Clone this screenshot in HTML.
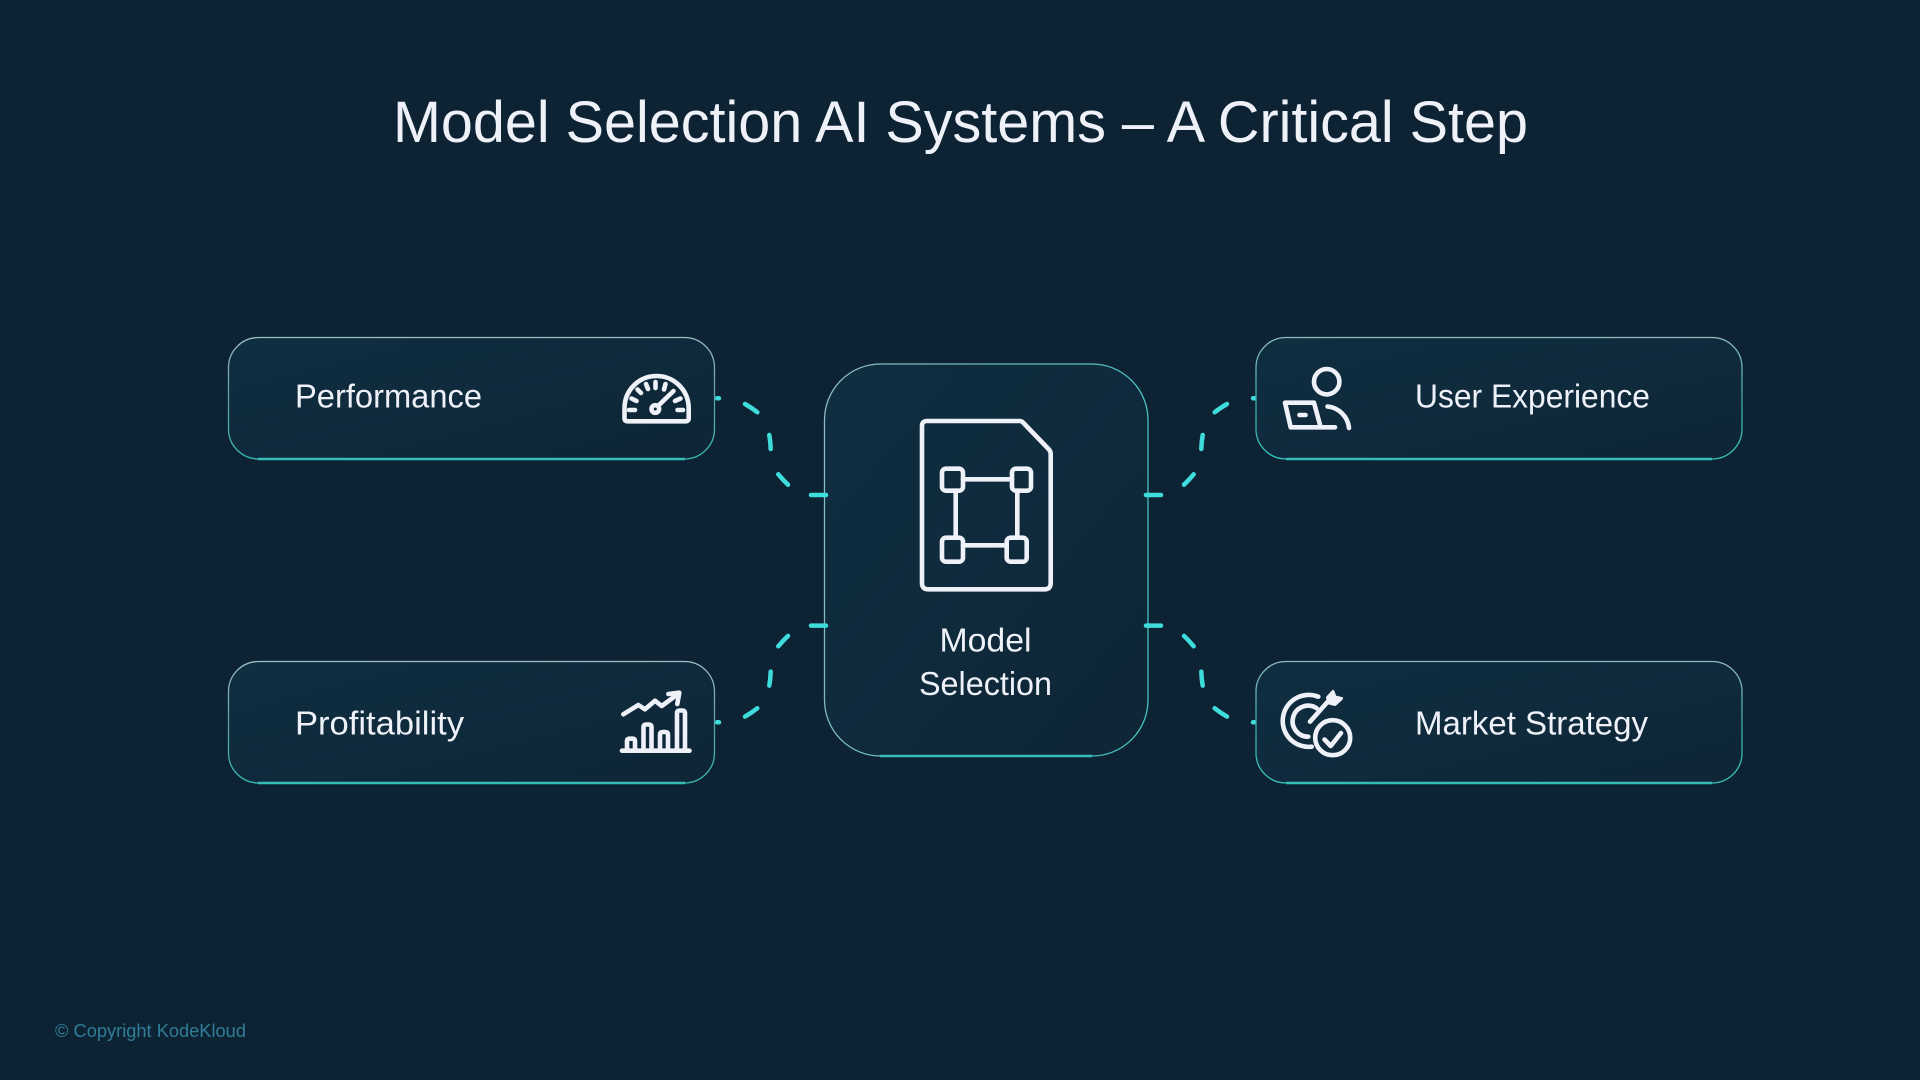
<!DOCTYPE html>
<html lang="en">
<head>
<meta charset="utf-8">
<title>Model Selection AI Systems – A Critical Step</title>
<style>
html,body{margin:0;padding:0;background:#0d2333;width:1920px;height:1080px;overflow:hidden}
svg{display:block}
text{font-family:"Liberation Sans",sans-serif;fill:#eff1f9}
.i{fill:none;stroke:#eff1f9;stroke-width:4.6;stroke-linecap:round;stroke-linejoin:round}
.d{fill:none;stroke:#3fdcdc;stroke-width:4.5;stroke-linecap:round}
.b{fill:none;stroke:#35bdb5;stroke-width:2.4}
</style>
</head>
<body>
<svg width="1920" height="1080" viewBox="0 0 1920 1080" xmlns="http://www.w3.org/2000/svg">
<defs>
<linearGradient id="f" x1="0" y1="0" x2="1" y2="1">
<stop offset="0" stop-color="#0f2e41"/><stop offset=".55" stop-color="#0f2a3b"/><stop offset="1" stop-color="#0e2535"/>
</linearGradient>
<linearGradient id="sL" x1="0" y1="0" x2="0" y2="1">
<stop offset="0" stop-color="#9dbfc4"/><stop offset=".5" stop-color="#5e9ca4"/><stop offset="1" stop-color="#38bdb6"/>
</linearGradient>
<linearGradient id="sR" x1="0" y1="0" x2="0" y2="1">
<stop offset="0" stop-color="#8fbcc0"/><stop offset=".5" stop-color="#3fa8a8"/><stop offset="1" stop-color="#38c4bc"/>
</linearGradient>
<linearGradient id="sC" x1="0" y1="0" x2="1" y2="0.3">
<stop offset="0" stop-color="#8fbac0"/><stop offset="1" stop-color="#45c0c0"/>
</linearGradient>
</defs>
<rect width="1920" height="1080" fill="#0d2333"/>

<text x="393" y="142" font-size="58" textLength="1135" lengthAdjust="spacingAndGlyphs">Model Selection AI Systems – A Critical Step</text>

<!-- connectors -->
<g class="d">
<path d="M717 398.3H719M745 404Q752 408 757.3 412.3M769.3 435Q770.5 442 770.7 449M778.3 474.3Q783 480 788 484.7M811 495H826"/>
<path d="M717 722.3H719M745 716.6Q752 712.6 757.3 708.3M769.3 685.6Q770.5 678.6 770.7 671.6M778.3 646.3Q783 640.6 788 635.9M811 625.6H826"/>
<path d="M1253 398.3H1255M1227 404Q1220 408 1214.7 412.3M1202.7 435Q1201.5 442 1201.3 449M1193.7 474.3Q1189 480 1184 484.7M1146 495H1161"/>
<path d="M1253 722.3H1255M1227 716.6Q1220 712.6 1214.7 708.3M1202.7 685.6Q1201.5 678.6 1201.3 671.6M1193.7 646.3Q1189 640.6 1184 635.9M1146 625.6H1161"/>
</g>

<!-- boxes -->
<rect x="228.5" y="337.5" width="486" height="121.5" rx="30" fill="url(#f)" stroke="url(#sL)" stroke-width="1.3"/>
<rect x="228.5" y="661.5" width="486" height="121.5" rx="30" fill="url(#f)" stroke="url(#sL)" stroke-width="1.3"/>
<rect x="1256" y="337.5" width="486" height="121.5" rx="30" fill="url(#f)" stroke="url(#sR)" stroke-width="1.3"/>
<rect x="1256" y="661.5" width="486" height="121.5" rx="30" fill="url(#f)" stroke="url(#sR)" stroke-width="1.3"/>
<rect x="824.5" y="364" width="323.5" height="392" rx="56" fill="url(#f)" stroke="url(#sC)" stroke-width="1.3"/>
<path class="b" d="M258 459H685M258 783H685M1286 459H1712M1286 783H1712M880 756H1092"/>
<path d="M826 495H824.5M826 625.6H824.5" class="d"/>
<path d="M1146 495H1149M1146 625.6H1149" class="d"/>

<!-- labels -->
<text x="295" y="407.5" font-size="33" textLength="187" lengthAdjust="spacingAndGlyphs">Performance</text>
<text x="295" y="734.5" font-size="33" textLength="169" lengthAdjust="spacingAndGlyphs">Profitability</text>
<text x="1415" y="407.5" font-size="33" textLength="235" lengthAdjust="spacingAndGlyphs">User Experience</text>
<text x="1415" y="734.5" font-size="33" textLength="233" lengthAdjust="spacingAndGlyphs">Market Strategy</text>
<text x="939.5" y="651.5" font-size="33" textLength="92" lengthAdjust="spacingAndGlyphs">Model</text>
<text x="919" y="695" font-size="33" textLength="133" lengthAdjust="spacingAndGlyphs">Selection</text>
<text x="55" y="1037" font-size="18" textLength="191" lengthAdjust="spacingAndGlyphs" style="fill:#2f7e97">© Copyright KodeKloud</text>

<!-- model icon -->
<g class="i">
<path d="M927 421H1019.5Q1021.7 421 1023 422.5L1049 449.5Q1050.7 451.5 1050.7 454V583Q1050.7 589.3 1044.5 589.3H928Q922 589.3 922 583V426Q922 421 927 421Z"/>
<rect x="942" y="468.7" width="21" height="22" rx="4"/>
<rect x="1012" y="468.7" width="19" height="22" rx="4"/>
<rect x="942" y="537.7" width="21" height="24" rx="4"/>
<rect x="1006.7" y="537.7" width="20" height="24" rx="4"/>
<path d="M963 479.3H1012M963 545.3H1006.7M955.7 490.7V537.7M1017.3 490.7V537.7"/>
</g>

<!-- gauge -->
<g class="i">
<path d="M624.5 408.5C624.5 390 639 376 656.5 376S688.7 390 688.7 408.5V418Q688.7 421.3 685.5 421.3H627.5Q624.5 421.3 624.5 418Z"/>
<path d="M629 410H635M631.5 398.5L636.5 401M637.5 389.5L641 393M646 384L648 389M655.5 382V388M665.5 384L664 389.5M680.5 398.5L675 401M677.5 410H683"/>
<circle cx="655.3" cy="409" r="3.8"/>
<path d="M658.5 405.5L673.5 391"/>
</g>

<!-- chart -->
<g class="i">
<path d="M622 750.7H689.5"/>
<path d="M627 750V741Q627 738.7 629.3 738.7H632.7Q635 738.7 635 741V750"/>
<path d="M643.5 750V727Q643.5 724.5 646 724.5H649Q651.5 724.5 651.5 727V750"/>
<path d="M660 750V734.5Q660 732 662.5 732H665.5Q668 732 668 734.5V750"/>
<path d="M677 750V713Q677 710.5 679.5 710.5H682.5Q685 710.5 685 713V750"/>
<path d="M623.3 714.3L638.3 705L645 709.3L655 700.7L661.7 706L678 694"/>
<path d="M668.3 694L679.3 692.7L677.3 704"/>
</g>

<!-- user -->
<g class="i">
<circle cx="1326.7" cy="381.7" r="12.7"/>
<path d="M1335 427.3H1290.7L1285 402.7H1314L1320.7 427.3"/>
<path d="M1299.5 415H1305.5"/>
<path d="M1327.5 406.5C1339 407.5 1348 417 1349 428"/>
</g>

<!-- target -->
<g class="i">
<path d="M1318.3 696.7A26 26 0 1 0 1311.7 746.7"/>
<path d="M1316.7 708.3A15.5 15.5 0 1 0 1308.3 736.7"/>
<path d="M1310 721.7L1331 698"/>
<path d="M1327.5 697.5L1333 691.5L1335 697L1341.5 698.5L1335 704.5L1329 703Z" style="stroke-width:3;fill:#eff1f9"/>
<circle cx="1332.7" cy="737.7" r="17.5"/>
<path d="M1324.5 739.5L1330.7 746L1341 733"/>
</g>
</svg>
</body>
</html>
